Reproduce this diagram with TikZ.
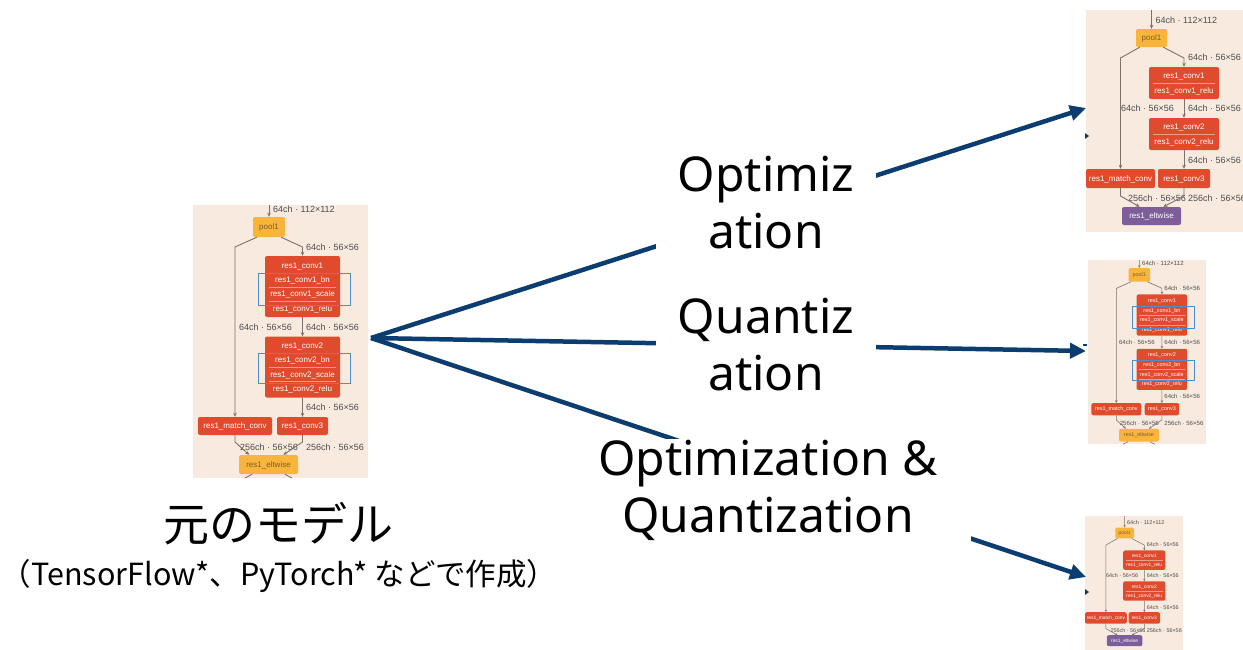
\documentclass[tikz,border=0pt]{standalone}
\usepackage{fontspec}
\setmainfont{Noto Sans}
\newfontfamily\netfont{Liberation Sans}
\newfontfamily\jpfont{Noto Sans CJK JP}
\usetikzlibrary{arrows.meta,calc}

\definecolor{panelbg}{HTML}{F8EADF}
\definecolor{convred}{HTML}{E04B2D}
\definecolor{poolorange}{HTML}{F9B53B}
\definecolor{eltpurple}{HTML}{7D5E9B}
\definecolor{selblue}{HTML}{4A8FCF}
\definecolor{edgegray}{HTML}{7C726B}
\definecolor{lblgray}{HTML}{4D4D4D}
\definecolor{arrowblue}{HTML}{0B3D70}
\definecolor{pooltxt}{HTML}{7A5C30}

\tikzset{
  panel/.style={fill=panelbg},
  layer/.style={rounded corners=2pt, inner sep=0pt, text height=5.5pt, text depth=0.5pt,
    font=\netfont\fontsize{8}{9}\selectfont},
  convbox/.style={layer, fill=convred},
  poolbox/.style={layer, fill=poolorange, text=pooltxt},
  elt orange/.style={layer, fill=poolorange, text=pooltxt},
  elt purple/.style={layer, fill=eltpurple, text=white},
  rowtxt/.style={inner sep=0pt, text=white, text height=5.5pt, text depth=0.5pt,
    font=\netfont\fontsize{8}{9}\selectfont},
  lbl/.style={inner sep=0pt, text=lblgray, text height=6pt, text depth=0.5pt,
    font=\netfont\fontsize{9}{10}\selectfont},
  edge/.style={draw=edgegray, line width=\netscale*0.9pt, -{Stealth[length=0pt 4.5,width=0pt 4]}},
  stub/.style={draw=edgegray, line width=\netscale*0.9pt},
  rowsep/.style={draw=convred!55!white, line width=\netscale*0.5pt},
  selbox/.style={draw=selblue, line width=\netscale*1pt},
  bigarrow/.style={draw=arrowblue, line width=4.5pt, -{Triangle[length=16pt,width=15pt]}},
  stagetxt/.style={fill=white, inner sep=0pt, align=center, font=\fontsize{48}{57}\selectfont},
}
\def\netscale{1}

% network graph with batch-norm and scale layers (prefix, origin, scale)
\newcommand\bngraph[3]{%
\def\netscale{#3}%
\begin{scope}[shift={#2},scale=#3,transform shape]
  \fill[panel] (0,0) rectangle (175,273);
  \coordinate (#1in) at (76,0);
  \node[poolbox, minimum width=32pt, minimum height=20pt] (#1pool) at (76,22) {pool1};
  \draw[edge] (#1in) -- (#1pool);
  \node[lbl, anchor=west] (#1l0) at (80,5) {64ch · 112×112};
  \coordinate (#1lb) at (42,42);
  \coordinate (#1rb) at (109.5,42);
  \node[lbl, anchor=west] (#1l1) at (113,43) {64ch · 56×56};
  % first convolution block
  \node[convbox, minimum width=75pt, minimum height=61pt] (#1conv1) at (109.5,81.5) {};
  \node[rowtxt] (#1c1a) at (109.5,61) {res1\_conv1};
  \node[rowtxt] (#1c1b) at (109.5,75) {res1\_conv1\_bn};
  \node[rowtxt] (#1c1c) at (109.5,89) {res1\_conv1\_scale};
  \node[rowtxt] (#1c1d) at (109.5,104) {res1\_conv1\_relu};
  \draw[rowsep] (76,68) -- (143,68) (76,82) -- (143,82) (76,96.5) -- (143,96.5);
  \draw[selbox] (65,68) rectangle (157,100.5);
  % second convolution block
  \node[convbox, minimum width=75pt, minimum height=61pt] (#1conv2) at (109.5,162) {};
  \node[rowtxt] (#1c2a) at (109.5,141) {res1\_conv2};
  \node[rowtxt] (#1c2b) at (109.5,155) {res1\_conv2\_bn};
  \node[rowtxt] (#1c2c) at (109.5,169.5) {res1\_conv2\_scale};
  \node[rowtxt] (#1c2d) at (109.5,184) {res1\_conv2\_relu};
  \draw[rowsep] (76,148) -- (143,148) (76,162) -- (143,162) (76,176.5) -- (143,176.5);
  \draw[selbox] (65,148) rectangle (157,178.5);
  \node[lbl, anchor=east] (#1l2) at (99,123) {64ch · 56×56};
  \node[lbl, anchor=west] (#1l3) at (113,123) {64ch · 56×56};
  \node[lbl, anchor=west] (#1l4) at (113,203) {64ch · 56×56};
  \node[convbox, minimum width=74pt, minimum height=18pt, text=white] (#1match) at (42,221) {res1\_match\_conv};
  \node[convbox, minimum width=51pt, minimum height=18pt, text=white] (#1conv3) at (109.5,221) {res1\_conv3};
  \node[elt orange, minimum width=59pt, minimum height=19pt] (#1elt) at (75.5,259.5) {res1\_eltwise};
  \coordinate (#1lb2) at (42,237);
  \coordinate (#1rb2) at (109.5,237);
  \node[lbl, anchor=west] (#1l5) at (47,243) {256ch · 56×56};
  \node[lbl, anchor=west] (#1l6) at (113,243) {256ch · 56×56};
  % connections
  \draw[edge] ($(#1pool.south)!0.75!(#1pool.south west)$) -- (#1lb) -- (#1match);
  \draw[edge] ($(#1pool.south)!0.75!(#1pool.south east)$) -- (#1rb) -- (#1conv1);
  \draw[edge] (#1conv1) -- (#1conv2);
  \draw[edge] (#1conv2) -- (#1conv3);
  \draw[edge] (#1match.south) -- (#1lb2) -- ($(#1elt.north)!0.65!(#1elt.north west)$);
  \draw[edge] (#1conv3.south) -- (#1rb2) -- ($(#1elt.north)!0.5!(#1elt.north east)$);
  \coordinate (#1o1) at (52,273);
  \coordinate (#1o2) at (99,273);
  \draw[stub] ($(#1elt.south)!0.55!(#1elt.south west)$) -- (#1o1);
  \draw[stub] ($(#1elt.south)!0.55!(#1elt.south east)$) -- (#1o2);
\end{scope}}

% network graph after layer fusion (prefix, origin, scale)
\newcommand\relugraph[3]{%
\def\netscale{#3}%
\begin{scope}[shift={#2},scale=#3,transform shape]
  \fill[panel] (0,0) rectangle (162,222);
  \coordinate (#1in) at (65.5,0);
  \node[poolbox, minimum width=31pt, minimum height=18pt] (#1pool) at (65.5,28) {pool1};
  \draw[edge] (#1in) -- (#1pool);
  \node[lbl, anchor=west] (#1l0) at (69.5,11) {64ch · 112×112};
  \coordinate (#1lb) at (34.5,48);
  \coordinate (#1rb) at (98,48);
  \node[lbl, anchor=west] (#1l1) at (102,48) {64ch · 56×56};
  \node[convbox, minimum width=70pt, minimum height=32pt] (#1conv1) at (98,73) {};
  \node[rowtxt] (#1c1a) at (98,66) {res1\_conv1};
  \node[rowtxt] (#1c1b) at (98,81) {res1\_conv1\_relu};
  \draw[rowsep] (67,73.5) -- (129,73.5);
  \node[convbox, minimum width=70pt, minimum height=32pt] (#1conv2) at (98,124) {};
  \node[rowtxt] (#1c2a) at (98,117) {res1\_conv2};
  \node[rowtxt] (#1c2b) at (98,132) {res1\_conv2\_relu};
  \draw[rowsep] (67,124.5) -- (129,124.5);
  \node[lbl, anchor=east] (#1l2) at (88,99) {64ch · 56×56};
  \node[lbl, anchor=west] (#1l3) at (102,99) {64ch · 56×56};
  \node[lbl, anchor=west] (#1l4) at (102,151) {64ch · 56×56};
  \node[convbox, minimum width=69pt, minimum height=19pt, text=white] (#1match) at (34.5,168.5) {res1\_match\_conv};
  \node[convbox, minimum width=52pt, minimum height=19pt, text=white] (#1conv3) at (98,168.5) {res1\_conv3};
  \node[elt purple, minimum width=59pt, minimum height=18pt] (#1elt) at (65.5,206) {res1\_eltwise};
  \coordinate (#1lb2) at (34.5,186);
  \coordinate (#1rb2) at (98,186);
  \node[lbl, anchor=west] (#1l5) at (42,189) {256ch · 56×56};
  \node[lbl, anchor=west] (#1l6) at (102,189) {256ch · 56×56};
  \draw[edge] ($(#1pool.south)!0.75!(#1pool.south west)$) -- (#1lb) -- (#1match);
  \draw[edge] ($(#1pool.south)!0.75!(#1pool.south east)$) -- (#1rb) -- (#1conv1);
  \draw[edge] (#1conv1) -- (#1conv2);
  \draw[edge] (#1conv2) -- (#1conv3);
  \draw[edge] (#1match.south) -- (#1lb2) -- ($(#1elt.north)!0.4!(#1elt.north west)$);
  \draw[edge] (#1conv3.south) -- (#1rb2) -- ($(#1elt.north)!0.4!(#1elt.north east)$);
\end{scope}}

\begin{document}
\begin{tikzpicture}[x=1pt,y=-1pt]
  \clip (0,0) rectangle (1243,649);
  \fill[white] (0,0) rectangle (1243,649);

  % original model
  \bngraph{L}{(193,205)}{1}
  \node[inner sep=0pt, font=\jpfont\fontsize{46}{52}\selectfont] (title) at (278,524) {元のモデル};
  \node[inner sep=0pt, font=\jpfont\fontsize{30.5}{36}\selectfont] (subtitle) at (279,576) {（TensorFlow*、PyTorch* などで作成）};

  % resulting models
  \relugraph{T}{(1086,10)}{1}
  \bngraph{M}{(1088,260)}{0.675}
  \relugraph{B}{(1085,516)}{0.605}

  % flow arrows
  \coordinate (hub) at (371,338);
  \coordinate (p1) at (1086,108);
  \coordinate (p2) at (1086,351);
  \coordinate (p3) at (1086,577);
  \draw[bigarrow] (hub) -- (p1);
  \draw[bigarrow] (hub) -- (p2);
  \draw[bigarrow] (hub) -- (p3);
  \fill[arrowblue] (1085,133) -- (1089,136) -- (1085,139) -- cycle;
  \fill[arrowblue] (1083,344) rectangle (1087,346);
  \fill[arrowblue] (1085,589) -- (1089,592) -- (1085,595) -- cycle;

  \node[stagetxt, minimum width=220pt, minimum height=105pt] (opt) at (766,202.5) {Optimiz\\ation};
  \node[stagetxt, minimum width=220pt, minimum height=110pt] (quant) at (766,345) {Quantiz\\ation};
  \node[stagetxt, minimum width=406pt, minimum height=103pt] (both) at (768,490) {Optimization \&\\Quantization};
\end{tikzpicture}
\end{document}
